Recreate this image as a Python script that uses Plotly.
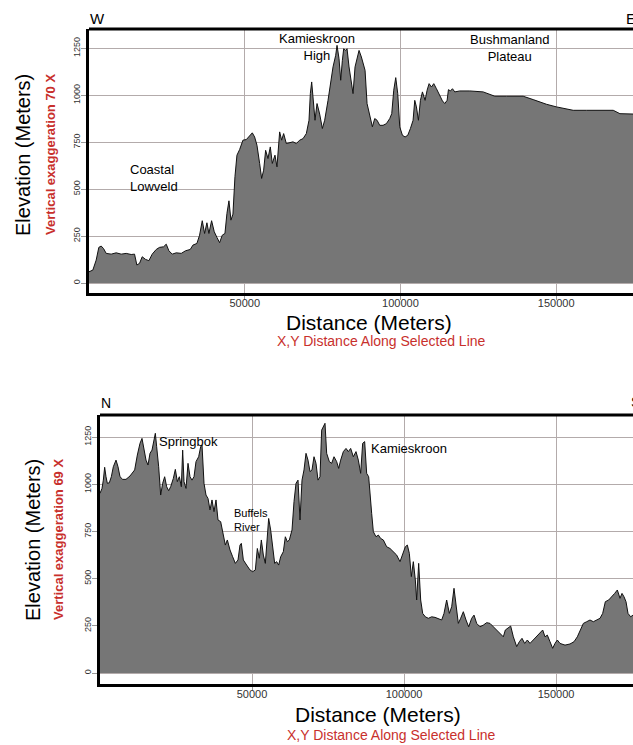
import plotly.graph_objects as go

# ---- West-East profile (top panel) ----
we_dist = [0, 1231, 2303, 3160, 3909, 4659, 5516, 7122, 8729, 10335, 11942, 13548,
           14619, 15369, 16226, 17082, 18153, 19224, 20296, 21581, 22652, 23937, 24794,
           25650, 26722, 28007, 29614, 31005, 32505, 33361, 34646, 35504, 36361, 37110,
           37858, 38501, 39359, 40216, 41071, 41930, 42787, 43643, 44285, 44928, 45570,
           46213, 46856, 47498, 48356, 49426, 50498, 51568, 52427, 53175, 53924, 54782,
           55424, 56067, 56709, 57458, 58209, 58851, 59707, 60350, 61207, 61850, 62492,
           63350, 64421, 65491, 66564, 67634, 68704, 69777, 70632, 71062, 71491, 71918,
           72561, 73204, 74060, 74917, 75666, 76736, 77487, 78343, 79200, 79628, 80270,
           80807, 81343, 81771, 82413, 82842, 83485, 84234, 84769, 85412, 86054, 86697,
           87448, 87981, 88624, 89267, 90125, 90982, 91731, 92480, 93338, 94407, 95481,
           96551, 97193, 97836, 98478, 99121, 99764, 100622, 101476, 102334, 103192,
           104047, 104583, 105120, 105762, 106405, 107048, 107902, 108545, 109187,
           109939, 110688, 111546, 112400, 113473, 114222, 114971, 115402, 116044,
           116687, 117435, 119042, 122255, 126538, 127610, 130287, 134037, 139390,
           142603, 146889, 150102, 155455, 159741, 168307, 170450, 174627, 177000]
we_elev = [60, 69, 122, 190, 197, 184, 158, 154, 161, 154, 158, 152,
           154, 96, 105, 140, 126, 119, 154, 179, 190, 193, 207,
           172, 154, 161, 158, 172, 179, 202, 211, 255, 332, 264,
           321, 264, 332, 273, 243, 215, 255, 264, 371, 438, 335,
           367, 566, 681, 711, 761, 764, 787, 800, 778, 734, 637,
           557, 601, 707, 663, 725, 637, 681, 619, 805, 761, 796,
           743, 746, 752, 743, 761, 769, 796, 867, 1009, 1071, 991,
           867, 956, 900, 823, 867, 973, 1062, 1151, 1213, 1266, 1195,
           1080, 1186, 1248, 1239, 1248, 1151, 1080, 1009, 1151, 1204, 1239,
           1204, 1168, 1133, 956, 894, 832, 876, 867, 840, 840, 849,
           876, 902, 1027, 1094, 1009, 832, 787, 778, 787, 823,
           867, 973, 938, 867, 973, 1018, 973, 1027, 1062,
           1044, 1062, 1035, 1009, 970, 956, 973, 1030, 1023,
           1035, 1018, 1023, 1023, 1018, 1012, 995, 995, 995,
           977, 952, 938, 920, 920, 920, 902, 899, 899]

# ---- North-South profile (bottom panel) ----
ns_dist = [0, 658, 1096, 1535, 1973, 2412, 3070, 3727, 4385, 5262, 5920, 6578, 7455,
           8551, 9867, 11402, 12279, 13156, 13814, 14472, 15129, 15787, 16445, 17103,
           17761, 18199, 18638, 19296, 19953, 20611, 21269, 21927, 22585, 23242, 24119,
           24777, 25435, 26093, 26751, 27189, 27628, 28285, 28943, 29601, 30259, 30917,
           31574, 32451, 33109, 33548, 34206, 34863, 35521, 36179, 36837, 37495, 38152,
           38810, 39687, 40564, 41222, 41880, 42757, 43634, 44511, 45388, 46046, 46485,
           47143, 48239, 49335, 50212, 51089, 51747, 52405, 53062, 53720, 54378, 54817,
           55475, 56132, 56790, 57448, 58106, 58764, 59421, 60298, 60956, 61614, 62272,
           63149, 63807, 64464, 65122, 65780, 66438, 67096, 67753, 68411, 69069, 69727,
           70385, 71042, 71700, 72358, 72906, 73454, 74003, 74551, 75428, 76195, 76963,
           77840, 78497, 79155, 80032, 80909, 81677, 82444, 83321, 84198, 84966, 85733,
           86391, 87049, 87707, 88364, 88803, 89351, 89899, 90776, 91544, 92311, 93188,
           94285, 95381, 96478, 97574, 98670, 99547, 100424, 101082, 101740, 102398,
           103056, 103714, 104152, 104810, 105468, 106126, 107003, 107990, 109086,
           110182, 111278, 112375, 113142, 114019, 114896, 115664, 116431, 117088,
           117856, 118623, 119500, 120377, 121256, 122242, 123009, 123886, 124982,
           126079, 127175, 128271, 129368, 130464, 131560, 132656, 133314, 134191,
           135069, 135946, 137042, 137919, 138796, 139673, 140550, 141427, 142523,
           143620, 144716, 145593, 146361, 147128, 148005, 148882, 149650, 150417,
           151294, 152939, 154583, 155899, 156995, 158092, 158969, 160065, 161161,
           162258, 163354, 164450, 165327, 166204, 167301, 168397, 169274, 170151,
           171028, 171686, 172344, 173001, 173659, 174536, 175304, 177000]
ns_elev = [952, 978, 1022, 1090, 1040, 1005, 1008, 1040, 1093, 1128, 1093, 1040, 1026,
           1026, 1044, 1076, 1155, 1217, 1243, 1173, 1128, 1102, 1164, 1181,
           1234, 1270, 1199, 1093, 943, 1005, 1040, 987, 966, 987, 1031,
           1079, 1014, 1040, 987, 1181, 1014, 978, 1111, 1040, 1022, 1040,
           1120, 1146, 1199, 1208, 1005, 943, 925, 864, 917, 855, 917,
           811, 802, 731, 678, 705, 652, 616, 581, 599, 678, 687,
           599, 572, 546, 537, 546, 660, 608, 705, 625, 581, 669,
           819, 758, 669, 581, 590, 572, 616, 643, 722, 696, 705,
           758, 908, 1005, 1022, 811, 1022, 1076, 1164, 1128, 1067, 1076,
           1146, 1111, 1022, 1040, 1287, 1305, 1323, 1164, 1120, 1111, 1146,
           1120, 1084, 1128, 1173, 1190, 1173, 1190, 1146, 1173, 1128, 1058,
           1217, 1226, 1058, 1040, 934, 846, 749, 722, 731, 713, 705,
           669, 660, 643, 625, 590, 625, 669, 678, 634, 511,
           590, 493, 387, 581, 387, 316, 298, 290, 298,
           295, 290, 281, 316, 387, 316, 351, 449, 351,
           263, 290, 325, 281, 245, 290, 307, 263, 245,
           254, 267, 263, 245, 228, 210, 192, 228, 237,
           249, 192, 140, 166, 184, 157, 175, 157, 175,
           192, 210, 228, 192, 201, 166, 131, 157, 175,
           157, 148, 154, 166, 192, 237, 263, 272, 281,
           272, 281, 290, 316, 378, 387, 404, 422, 440,
           396, 422, 404, 378, 316, 298, 307, 307]

elev_ticks = [0, 250, 500, 750, 1000, 1250]
dist_ticks = [50000, 100000, 150000]

FONT = "Liberation Sans, Arial, sans-serif"
W, H = 633, 745
FILL = "#767676"
GRID = "#b3abab"
RED = "#c8302c"


def px(x):
    return x / W


def py(y):
    return 1 - y / H


fig = go.Figure()
fig.add_trace(go.Scatter(x=we_dist, y=we_elev, mode="lines", fill="tozeroy",
                         fillcolor=FILL, line=dict(color="#111111", width=1),
                         xaxis="x", yaxis="y", hoverinfo="skip"))
fig.add_trace(go.Scatter(x=ns_dist, y=ns_elev, mode="lines", fill="tozeroy",
                         fillcolor=FILL, line=dict(color="#111111", width=1),
                         xaxis="x2", yaxis="y2", hoverinfo="skip"))

xcommon = dict(tickvals=dist_ticks, ticktext=[str(v) for v in dist_ticks],
               ticks="outside", ticklen=4, tickcolor="#999999", tickwidth=1,
               ticklabelstandoff=-6,
               showline=True, linecolor="black", linewidth=3,
               showgrid=True, gridcolor=GRID, gridwidth=1, zeroline=False,
               tickfont=dict(family=FONT, size=11, color="#333333"))
ycommon = dict(tickvals=elev_ticks, ticktext=[str(v) for v in elev_ticks],
               tickangle=-90, ticks="outside", ticklen=5, tickcolor="#999999",
               ticklabelstandoff=-3,
               showline=True, linecolor="black", linewidth=3,
               showgrid=True, gridcolor=GRID, gridwidth=1, zeroline=False,
               tickfont=dict(family=FONT, size=9, color="#333333"))

top_dom_y = [py(293), py(29)]
bot_dom_y = [py(684), py(415)]

fig.update_layout(
    width=W, height=H, margin=dict(l=0, r=0, t=0, b=0),
    paper_bgcolor="white", plot_bgcolor="white", showlegend=False,
    xaxis=dict(xcommon, domain=[px(89), 1], range=[0, 174650], anchor="y"),
    yaxis=dict(ycommon, domain=top_dom_y, range=[-53, 1353], anchor="x"),
    xaxis2=dict(xcommon, domain=[px(100), 1], range=[0, 175300], anchor="y2"),
    yaxis2=dict(ycommon, domain=bot_dom_y, range=[-58, 1367], anchor="x2"),
)

# top edge of each frame (the right side runs off the page)
for dx, dy in ((px(89), top_dom_y[1]), (px(100), bot_dom_y[1])):
    fig.add_shape(type="line", xref="paper", yref="paper", x0=dx, x1=1, y0=dy, y1=dy,
                  line=dict(color="black", width=3))

ann = []


def text(x, y, s, size, color="black", xref="paper", yref="paper", xanchor="center",
         yanchor="middle", angle=0, align="center", bold=False):
    if bold:
        s = "<b>" + s + "</b>"
    ann.append(dict(x=x, y=y, xref=xref, yref=yref, text=s, showarrow=False,
                    xanchor=xanchor, yanchor=yanchor, textangle=angle, align=align,
                    font=dict(family=FONT, size=size, color=color)))


# direction letters
text(px(88), py(18), "W", 15, xanchor="left")
text(px(624), py(18), "E", 15, xanchor="left")
text(px(99), py(403), "N", 14, xanchor="left")
text(px(629), py(402), "S", 14, xanchor="left")

# axis titles
for cx_title, cx_sub, cy, label in ((23, 50, 155, "70"), (33, 58, 540, "69")):
    text(px(cx_title), py(cy), "Elevation (Meters)", 20, angle=-90)
    text(px(cx_sub), py(cy), "Vertical exaggeration %s X" % label, 13, color=RED,
         angle=-90, bold=True)
for cx, cy in ((369, 322), (378, 714)):
    text(px(cx), py(cy), "Distance (Meters)", 21)
for cx, cy in ((381, 341), (391, 735)):
    text(px(cx), py(cy), "X,Y Distance Along Selected Line", 14, color=RED)

# place names on the profiles
text(73200, 1255, "Kamieskroon<br>High", 13, xref="x", yref="y")
text(135200, 1250, "Bushmanland<br>Plateau", 13, xref="x", yref="y")
text(12500, 561, "Coastal<br>Lowveld", 13, xref="x", yref="y", xanchor="left", align="left")
text(18750, 1229, "Springbok", 13, xref="x2", yref="y2", xanchor="left")
text(88470, 1192, "Kamieskroon", 13, xref="x2", yref="y2", xanchor="left")
text(43400, 810, "Buffels<br>River", 11, xref="x2", yref="y2", xanchor="left", align="left")

fig.update_layout(annotations=ann)
fig.write_html("out.html")
